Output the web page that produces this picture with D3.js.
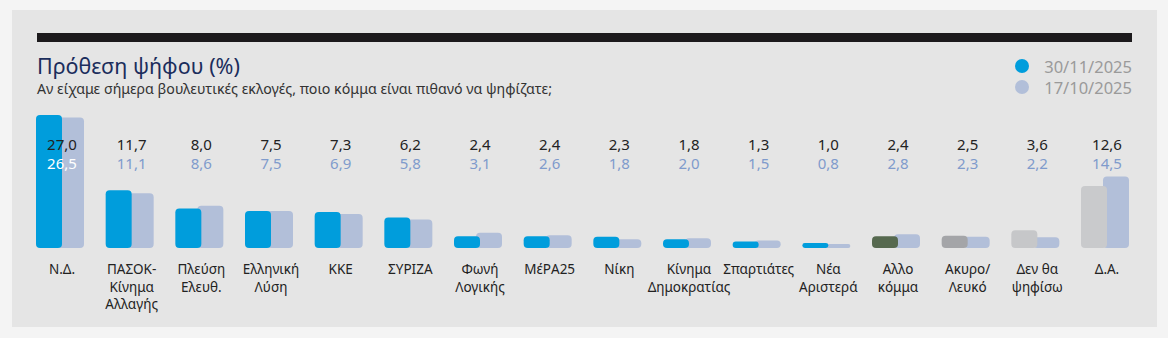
<!DOCTYPE html>
<html><head><meta charset="utf-8">
<script src="https://cdn.jsdelivr.net/npm/d3@7"></script>
<style>
html,body{margin:0;padding:0;background:#f4f4f4;}
svg{display:block;font-family:"Noto Sans",sans-serif;}
</style></head><body>
<svg id="chart" width="1168" height="338"></svg>
<script>
const categories = [
  ["Ν.Δ."], ["ΠΑΣΟΚ-","Κίνημα","Αλλαγής"], ["Πλεύση","Ελευθ."], ["Ελληνική","Λύση"], ["ΚΚΕ"], ["ΣΥΡΙΖΑ"],
  ["Φωνή","Λογικής"], ["ΜέΡΑ25"], ["Νίκη"], ["Κίνημα","Δημοκρατίας"], ["Σπαρτιάτες"], ["Νέα","Αριστερά"],
  ["Αλλο","κόμμα"], ["Ακυρο/","Λευκό"], ["Δεν θα","ψηφίσω"], ["Δ.Α."]
];
const seriesNames = ["30/11/2025", "17/10/2025"];
const valuesNov = [27.0, 11.7, 8.0, 7.5, 7.3, 6.2, 2.4, 2.4, 2.3, 1.8, 1.3, 1.0, 2.4, 2.5, 3.6, 12.6];
const valuesOct = [26.5, 11.1, 8.6, 7.5, 6.9, 5.8, 3.1, 2.6, 1.8, 2.0, 1.5, 0.8, 2.8, 2.3, 2.2, 14.5];
const novColors = ["#009ddc","#009ddc","#009ddc","#009ddc","#009ddc","#009ddc","#009ddc","#009ddc",
  "#009ddc","#009ddc","#009ddc","#009ddc","#56694f","#a4a5a8","#c6c7c9","#c9cacc"];
const octColor = "#b2bfd9";
const title = "Πρόθεση ψήφου (%)";
const subtitle = "Αν είχαμε σήμερα βουλευτικές εκλογές, ποιο κόμμα είναι πιθανό να ψηφίζατε;";

const fmt = v => v.toFixed(1).replace(".", ",");
const svg = d3.select("#chart");

svg.append("rect").attr("x",12).attr("y",10).attr("width",1145).attr("height",317).attr("fill","#e5e5e5");
svg.append("rect").attr("x",37).attr("y",33).attr("width",1095).attr("height",9).attr("fill","#1c1a1c");

svg.append("text").attr("x",37).attr("y",74).attr("font-size",21.5).attr("fill","#1b2d5c").text(title);
svg.append("text").attr("x",37).attr("y",94).attr("font-size",14.2).attr("fill","#333").text(subtitle);

// legend
const legColors = ["#009ddc", octColor];
seriesNames.forEach((s,i)=>{
  svg.append("circle").attr("cx",1022).attr("cy",66+i*21).attr("r",7).attr("fill",legColors[i]);
  svg.append("text").attr("x",1132).attr("y",73+i*21).attr("text-anchor","end")
    .attr("font-size",16.5).attr("fill","#9a9a9a").text(s);
});

const x = d3.scalePoint().domain(d3.range(categories.length)).range([62, 1107]);
const y = d3.scaleLinear().domain([0, 27]).range([248, 115]);
const bw = 26;

const g = svg.append("g");
const rr = h => Math.min(4, h/2);
// Oct bars (behind)
g.selectAll("rect.oct").data(valuesOct).join("rect").attr("class","oct")
  .attr("x",(d,i)=>x(i)-4).attr("width",bw)
  .attr("y",d=>y(d)).attr("height",d=>y(0)-y(d))
  .attr("rx",d=>rr(y(0)-y(d))).attr("fill",octColor);
// Nov bars
g.selectAll("rect.nov").data(valuesNov).join("rect").attr("class","nov")
  .attr("x",(d,i)=>x(i)-bw).attr("width",bw)
  .attr("y",d=>y(d)).attr("height",d=>y(0)-y(d))
  .attr("rx",d=>rr(y(0)-y(d))).attr("fill",(d,i)=>novColors[i]);

// value labels
g.selectAll("text.vn").data(valuesNov).join("text").attr("class","vn")
  .attr("x",(d,i)=>x(i)).attr("y",150).attr("text-anchor","middle")
  .attr("font-size",15).attr("fill","#222").text(fmt);
g.selectAll("text.vo").data(valuesOct).join("text").attr("class","vo")
  .attr("x",(d,i)=>x(i)).attr("y",169).attr("text-anchor","middle")
  .attr("font-size",15).attr("fill",(d,i)=> y(valuesNov[i]) < 155 ? "#ffffff" : "#7f9bcc").text(fmt);

// category labels
const cl = g.selectAll("text.cat").data(categories).join("text").attr("class","cat")
  .attr("x",(d,i)=>x(i)).attr("y",274).attr("text-anchor","middle")
  .attr("font-size",13.5).attr("fill","#222");
cl.selectAll("tspan").data(d=>d).join("tspan")
  .attr("x",function(){return d3.select(this.parentNode).attr("x");})
  .attr("dy",(d,j)=> j===0 ? 0 : 17.5).text(d=>d);
</script>
</body></html>
